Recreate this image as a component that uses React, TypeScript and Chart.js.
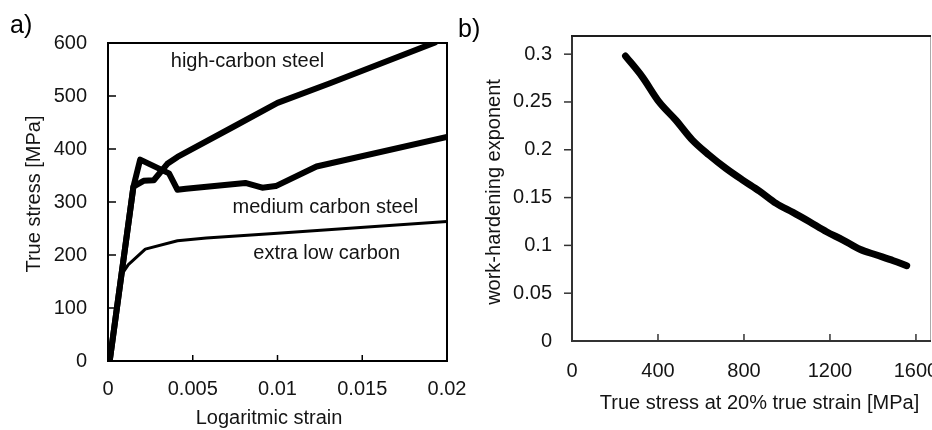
import React, { useEffect, useRef } from "react";
import { Chart, registerables } from "chart.js";

Chart.register(...registerables);

const FONT = "'Liberation Sans', Arial, Helvetica, sans-serif";

// ---------- Panel a) ----------
const strainTicks = [0, 0.005, 0.01, 0.015, 0.02];
const stressTicks = [0, 100, 200, 300, 400, 500, 600];

const highCarbonStrain = [0.0001, 0.0015, 0.0021, 0.0027, 0.0035, 0.0041, 0.0074, 0.01, 0.0131, 0.0193];
const highCarbonStress = [0, 329, 340, 341, 372, 385, 442, 487, 524, 601];

const mediumCarbonStrain = [0.0001, 0.0015, 0.0019, 0.0036, 0.0041, 0.0046, 0.0081, 0.0091, 0.0099, 0.0123, 0.02];
const mediumCarbonStress = [0, 329, 380, 354, 323, 325, 336, 327, 330, 367, 423];

const extraLowStrain = [0.0001, 0.0008, 0.0012, 0.0022, 0.0041, 0.0058, 0.01, 0.02];
const extraLowStress = [0, 163, 182, 211, 227, 232, 241, 263];

const curveNames = ["high-carbon steel", "medium carbon steel", "extra low carbon"];
const curveLabelStrain = [0.00823, 0.01282, 0.0129];
const curveLabelStress = [555, 280, 192];

// ---------- Panel b) ----------
const stressAt20Ticks = [0, 400, 800, 1200, 1600];
const exponentTicks = [0, 0.05, 0.1, 0.15, 0.2, 0.25, 0.3];
const stressAt20 = [249, 327, 405, 483, 560, 638, 716, 794, 872, 950, 1028, 1105, 1184, 1261, 1339, 1417, 1495, 1557];
const exponentN = [0.298, 0.2763, 0.2501, 0.231, 0.2101, 0.1944, 0.1805, 0.1683, 0.1568, 0.1439, 0.1345, 0.1247, 0.1143, 0.1056, 0.0959, 0.0899, 0.0839, 0.0787];

const TEXT = "#141414";

function pts(xs: number[], ys: number[]) {
  return xs.map((x, i) => ({ x, y: ys[i] }));
}

function line(ctx: CanvasRenderingContext2D, x1: number, y1: number, x2: number, y2: number) {
  ctx.beginPath();
  ctx.moveTo(x1, y1);
  ctx.lineTo(x2, y2);
  ctx.stroke();
}

const panelAPlugin = {
  id: "panelA",
  afterDraw(chart: any) {
    const { ctx, chartArea: a, scales } = chart;
    const x = scales.x;
    const y = scales.y;
    ctx.save();
    ctx.strokeStyle = "#000";
    ctx.lineWidth = 2;
    ctx.strokeRect(a.left, a.top, a.right - a.left, a.bottom - a.top);
    ctx.lineWidth = 1.5;
    stressTicks.slice(1, -1).forEach((v) => {
      const py = y.getPixelForValue(v);
      line(ctx, a.left, py, a.left + 8, py);
    });
    strainTicks.slice(1, -1).forEach((v) => {
      const px = x.getPixelForValue(v);
      line(ctx, px, a.bottom, px, a.bottom - 6);
    });
    ctx.fillStyle = TEXT;
    ctx.font = `20px ${FONT}`;
    ctx.textAlign = "center";
    ctx.textBaseline = "alphabetic";
    curveNames.forEach((t, i) => {
      ctx.fillText(t, x.getPixelForValue(curveLabelStrain[i]), y.getPixelForValue(curveLabelStress[i]));
    });
    // axis titles
    ctx.textBaseline = "middle";
    ctx.fillText("Logaritmic strain", 269, 418);
    ctx.save();
    ctx.translate(34, 194);
    ctx.rotate(-Math.PI / 2);
    ctx.fillText("True stress [MPa]", 0, 0);
    ctx.restore();
    // panel letter
    ctx.textAlign = "left";
    ctx.textBaseline = "alphabetic";
    ctx.font = `25px ${FONT}`;
    ctx.fillStyle = "#000";
    ctx.fillText("a)", 10, 33);
    ctx.restore();
  },
};

const panelBPlugin = {
  id: "panelB",
  afterDraw(chart: any) {
    const { ctx, chartArea: a, scales } = chart;
    const x = scales.x;
    const y = scales.y;
    ctx.save();
    ctx.strokeStyle = "#aaa";
    ctx.lineWidth = 1;
    line(ctx, a.right - 0.5, a.top, a.right - 0.5, a.bottom);
    ctx.strokeStyle = "#333";
    ctx.lineWidth = 2;
    line(ctx, a.left, a.top, a.left, a.bottom + 1);
    line(ctx, a.left - 1, a.bottom, a.right, a.bottom);
    ctx.strokeStyle = "#1e1e1e";
    line(ctx, a.left - 1, a.top, a.right, a.top);
    ctx.strokeStyle = "#333";
    ctx.lineWidth = 1.5;
    exponentTicks.slice(1).forEach((v) => {
      const py = y.getPixelForValue(v);
      line(ctx, a.left, py, a.left - 8, py);
    });
    stressAt20Ticks.slice(1).forEach((v) => {
      const px = x.getPixelForValue(v);
      line(ctx, px, a.bottom, px, a.bottom - 7);
    });
    ctx.fillStyle = TEXT;
    ctx.font = `20px ${FONT}`;
    ctx.textAlign = "center";
    ctx.textBaseline = "middle";
    ctx.fillText("True stress at 20% true strain [MPa]", 309.5, 403);
    ctx.save();
    ctx.translate(44, 192);
    ctx.rotate(-Math.PI / 2);
    ctx.fillText("work-hardening exponent", 0, 0);
    ctx.restore();
    ctx.textAlign = "left";
    ctx.textBaseline = "alphabetic";
    ctx.font = `25px ${FONT}`;
    ctx.fillStyle = "#000";
    ctx.fillText("b)", 8, 37);
    ctx.restore();
  },
};

const tickFont = { family: FONT, size: 20 };

function PanelA() {
  const ref = useRef<HTMLCanvasElement>(null);
  useEffect(() => {
    const chart = new Chart(ref.current as HTMLCanvasElement, {
      type: "line",
      data: {
        datasets: [
          { data: pts(highCarbonStrain, highCarbonStress), borderColor: "#000", borderWidth: 6 },
          { data: pts(mediumCarbonStrain, mediumCarbonStress), borderColor: "#000", borderWidth: 6 },
          { data: pts(extraLowStrain, extraLowStress), borderColor: "#000", borderWidth: 3 },
        ] as any,
      },
      options: {
        animation: false,
        responsive: false,
        maintainAspectRatio: false,
        layout: { padding: { top: 43, right: 23, bottom: 0, left: 0 } },
        plugins: { legend: { display: false }, tooltip: { enabled: false } },
        elements: {
          point: { radius: 0 },
          line: { tension: 0, borderJoinStyle: "round", borderCapStyle: "round", fill: false },
        },
        scales: {
          x: {
            type: "linear",
            min: 0,
            max: 0.02,
            afterBuildTicks: (s: any) => {
              s.ticks = strainTicks.map((v) => ({ value: v }));
            },
            afterFit: (s: any) => {
              s.height = 69;
              s.paddingLeft = 0;
              s.paddingRight = 0;
            },
            grid: { display: false },
            border: { display: false },
            ticks: {
              autoSkip: false,
              maxRotation: 0,
              padding: 8,
              font: tickFont,
              color: TEXT,
              callback: (v: any) => String(v),
            },
          },
          y: {
            type: "linear",
            min: 0,
            max: 600,
            afterBuildTicks: (s: any) => {
              s.ticks = stressTicks.map((v) => ({ value: v }));
            },
            afterFit: (s: any) => {
              s.width = 108;
              s.paddingTop = 0;
              s.paddingBottom = 0;
            },
            grid: { display: false },
            border: { display: false },
            ticks: { padding: 13, font: tickFont, color: TEXT, callback: (v: any) => String(v) },
          },
        },
      } as any,
      plugins: [panelAPlugin],
    });
    return () => chart.destroy();
  }, []);
  return (
    <canvas ref={ref} width={470} height={430} style={{ position: "absolute", left: 0, top: 0 }} />
  );
}

function PanelB() {
  const ref = useRef<HTMLCanvasElement>(null);
  useEffect(() => {
    const chart = new Chart(ref.current as HTMLCanvasElement, {
      type: "line",
      data: {
        datasets: [{ data: pts(stressAt20, exponentN), borderColor: "#000", borderWidth: 7 }] as any,
      },
      options: {
        animation: false,
        responsive: false,
        maintainAspectRatio: false,
        layout: { padding: { top: 36, right: 1, bottom: 0, left: 0 } },
        plugins: { legend: { display: false }, tooltip: { enabled: false } },
        elements: {
          point: { radius: 0 },
          line: { cubicInterpolationMode: "monotone", borderJoinStyle: "round", borderCapStyle: "round", fill: false },
        },
        scales: {
          x: {
            type: "linear",
            min: 0,
            max: 1670,
            afterBuildTicks: (s: any) => {
              s.ticks = stressAt20Ticks.map((v) => ({ value: v }));
            },
            afterFit: (s: any) => {
              s.height = 89;
              s.paddingLeft = 0;
              s.paddingRight = 0;
            },
            grid: { display: false },
            border: { display: false },
            ticks: {
              autoSkip: false,
              maxRotation: 0,
              padding: 10,
              font: tickFont,
              color: TEXT,
              callback: (v: any) => String(v),
            },
          },
          y: {
            type: "linear",
            min: 0,
            max: 0.319,
            afterBuildTicks: (s: any) => {
              s.ticks = exponentTicks.map((v) => ({ value: v }));
            },
            afterFit: (s: any) => {
              s.width = 122;
              s.paddingTop = 0;
              s.paddingBottom = 0;
            },
            grid: { display: false },
            border: { display: false },
            ticks: { padding: 12, font: tickFont, color: TEXT, callback: (v: any) => String(v) },
          },
        },
      } as any,
      plugins: [panelBPlugin],
    });
    return () => chart.destroy();
  }, []);
  return (
    <canvas ref={ref} width={482} height={430} style={{ position: "absolute", left: 450, top: 0 }} />
  );
}

export default function App() {
  return (
    <div style={{ position: "fixed", left: 0, top: 0, width: 932, height: 430, background: "#fff" }}>
      <PanelA />
      <PanelB />
    </div>
  );
}
